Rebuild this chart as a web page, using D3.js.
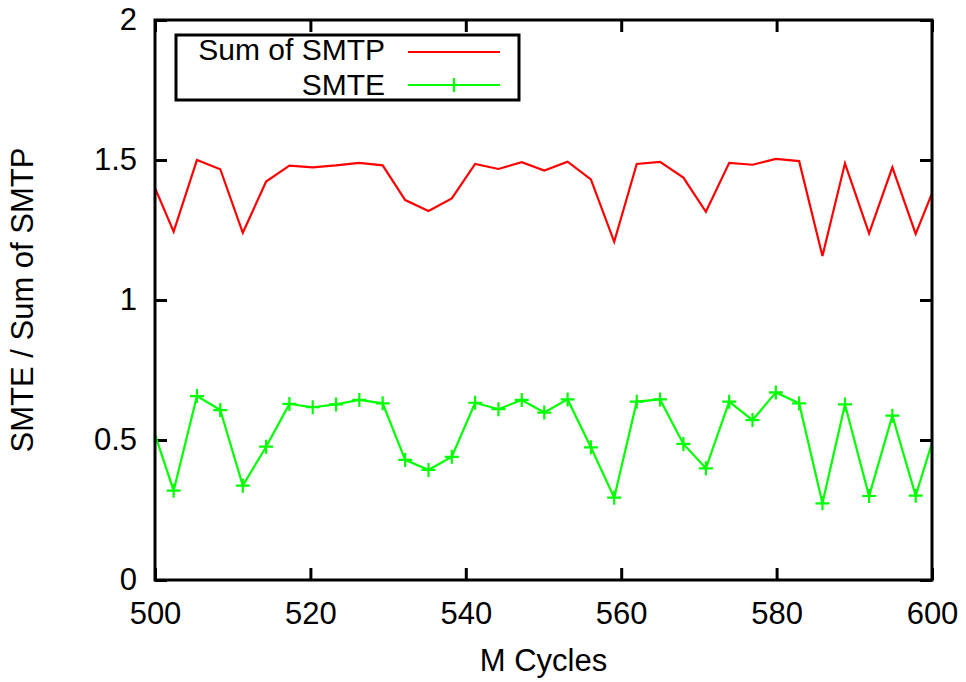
<!DOCTYPE html>
<html>
<head>
<meta charset="utf-8">
<script src="https://cdn.jsdelivr.net/npm/d3@7"></script>
<style>
  html, body { margin: 0; padding: 0; background: #fff; }
  svg { display: block; font-family: "Liberation Sans", Arial, Helvetica, sans-serif; }
</style>
</head>
<body>
<svg id="chart" width="966" height="682"></svg>
<script>
// Sample positions (M cycles); the first and last fall just outside the visible window
const cycles = [499.4, 502.4, 505.4, 508.4, 511.3, 514.3, 517.3, 520.3, 523.3, 526.3,
                529.3, 532.2, 535.2, 538.2, 541.2, 544.2, 547.2, 550.1, 553.1, 556.1,
                559.1, 562.0, 565.0, 568.0, 570.9, 573.9, 576.9, 579.9, 582.9, 585.9,
                588.8, 591.9, 594.9, 597.9, 600.9];

const sumSMTP = [1.439, 1.244, 1.500, 1.467, 1.240, 1.423, 1.480, 1.474, 1.481, 1.490,
                 1.481, 1.357, 1.318, 1.363, 1.486, 1.468, 1.492, 1.462, 1.494, 1.431,
                 1.208, 1.486, 1.493, 1.437, 1.315, 1.490, 1.483, 1.504, 1.496, 1.157,
                 1.488, 1.238, 1.474, 1.236, 1.443];

const smte = [0.570, 0.319, 0.657, 0.607, 0.337, 0.476, 0.629, 0.617, 0.627, 0.643,
              0.631, 0.429, 0.393, 0.440, 0.633, 0.610, 0.643, 0.598, 0.645, 0.474,
              0.294, 0.637, 0.645, 0.486, 0.399, 0.637, 0.571, 0.670, 0.631, 0.274,
              0.627, 0.300, 0.587, 0.301, 0.570];

const xTicks = [500, 520, 540, 560, 580, 600];
const yTicks = [0, 0.5, 1, 1.5, 2];

const seriesNames = ["Sum of SMTP", "SMTE"];
const seriesColors = ["#ff0000", "#00ff00"];

const svg = d3.select("#chart");
const plot = { left: 155, right: 932, top: 20, bottom: 580 };
const fontSize = 31;
const legendFontSize = 30;

const x = d3.scaleLinear().domain([500, 600]).range([plot.left, plot.right]);
const y = d3.scaleLinear().domain([0, 2]).range([plot.bottom, plot.top]);

svg.append("defs").append("clipPath").attr("id", "plotClip")
  .append("rect")
  .attr("x", plot.left).attr("y", plot.top)
  .attr("width", plot.right - plot.left).attr("height", plot.bottom - plot.top);

const tickLen = 12;

// Bottom axis with labels; top axis mirrors the ticks only
svg.append("g")
  .attr("transform", `translate(0,${plot.bottom})`)
  .call(d3.axisBottom(x).tickValues(xTicks).tickSizeInner(-tickLen).tickSizeOuter(0).tickPadding(22).tickFormat(d3.format("d")))
  .call(g => g.select(".domain").remove())
  .call(g => g.selectAll("line").attr("stroke", "#000").attr("stroke-width", 3))
  .call(g => g.selectAll("text").attr("font-size", fontSize).attr("font-family", null).attr("fill", "#000"));

svg.append("g")
  .attr("transform", `translate(0,${plot.top})`)
  .call(d3.axisTop(x).tickValues(xTicks).tickSizeInner(-tickLen).tickSizeOuter(0).tickFormat(""))
  .call(g => g.select(".domain").remove())
  .call(g => g.selectAll("line").attr("stroke", "#000").attr("stroke-width", 3));

// Left axis with labels; right axis mirrors the ticks only
svg.append("g")
  .attr("transform", `translate(${plot.left},0)`)
  .call(d3.axisLeft(y).tickValues(yTicks).tickSizeInner(-tickLen).tickSizeOuter(0).tickPadding(18).tickFormat(d3.format("")))
  .call(g => g.select(".domain").remove())
  .call(g => g.selectAll("line").attr("stroke", "#000").attr("stroke-width", 3))
  .call(g => g.selectAll("text").attr("font-size", fontSize).attr("font-family", null).attr("fill", "#000"));

svg.append("g")
  .attr("transform", `translate(${plot.right},0)`)
  .call(d3.axisRight(y).tickValues(yTicks).tickSizeInner(-tickLen).tickSizeOuter(0).tickFormat(""))
  .call(g => g.select(".domain").remove())
  .call(g => g.selectAll("line").attr("stroke", "#000").attr("stroke-width", 3));

// Series lines
const line = d3.line().x(d => x(d[0])).y(d => y(d[1]));
const dataRed = cycles.map((c, i) => [c, sumSMTP[i]]);
const dataGreen = cycles.map((c, i) => [c, smte[i]]);

const lines = svg.append("g").attr("clip-path", "url(#plotClip)");
lines.append("path").datum(dataRed)
  .attr("d", line).attr("fill", "none")
  .attr("stroke", seriesColors[0]).attr("stroke-width", 2.2).attr("stroke-linejoin", "miter");
lines.append("path").datum(dataGreen)
  .attr("d", line).attr("fill", "none")
  .attr("stroke", seriesColors[1]).attr("stroke-width", 2.2).attr("stroke-linejoin", "miter");

// Plus markers on SMTE, only inside the x range
const half = 7;
const plusPath = (cx, cy) => `M${cx - half},${cy}H${cx + half}M${cx},${cy - half}V${cy + half}`;
svg.append("g").selectAll("path")
  .data(dataGreen.filter(d => d[0] >= 500 && d[0] <= 600))
  .join("path")
  .attr("d", d => plusPath(x(d[0]), y(d[1])))
  .attr("stroke", seriesColors[1]).attr("stroke-width", 2.2).attr("fill", "none");

// Frame
svg.append("rect")
  .attr("x", plot.left).attr("y", plot.top)
  .attr("width", plot.right - plot.left).attr("height", plot.bottom - plot.top)
  .attr("fill", "none").attr("stroke", "#000").attr("stroke-width", 3);

// Axis titles
svg.append("text")
  .attr("x", (plot.left + plot.right) / 2).attr("y", 671)
  .attr("text-anchor", "middle").attr("font-size", fontSize).text("M Cycles");

svg.append("text")
  .attr("transform", `translate(33,${(plot.top + plot.bottom) / 2}) rotate(-90)`)
  .attr("text-anchor", "middle").attr("font-size", fontSize).text("SMTE / Sum of SMTP");

// Legend
const legend = svg.append("g");
legend.append("rect")
  .attr("x", 176).attr("y", 35).attr("width", 343).attr("height", 65)
  .attr("fill", "#fff").attr("stroke", "#000").attr("stroke-width", 3);

const legendBaselines = [60, 94.5];
const legendSampleY = [52, 85];
seriesNames.forEach((name, i) => {
  legend.append("text")
    .attr("x", 385).attr("y", legendBaselines[i])
    .attr("text-anchor", "end").attr("font-size", legendFontSize).text(name);
  legend.append("line")
    .attr("x1", 408).attr("x2", 500).attr("y1", legendSampleY[i]).attr("y2", legendSampleY[i])
    .attr("stroke", seriesColors[i]).attr("stroke-width", 2.2);
  if (i === 1) {
    legend.append("path").attr("d", plusPath(454, legendSampleY[i]))
      .attr("stroke", seriesColors[i]).attr("stroke-width", 2.2);
  }
});
</script>
</body>
</html>
